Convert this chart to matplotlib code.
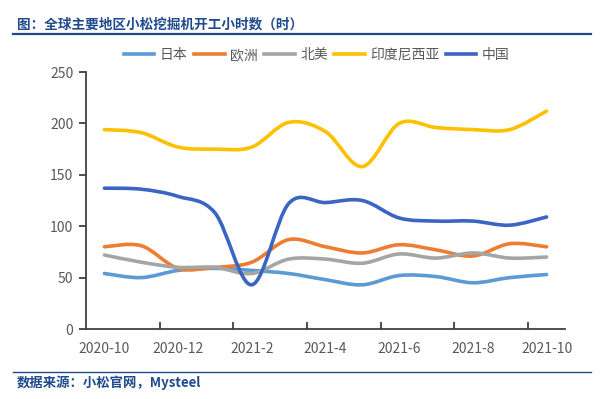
import matplotlib.pyplot as plt
from matplotlib.path import Path
from matplotlib.patches import PathPatch
from matplotlib.lines import Line2D
import numpy as np

plt.rcParams['font.family'] = ['Noto Sans CJK SC', 'DejaVu Sans']

months = ['2020-10', '2020-11', '2020-12', '2021-1', '2021-2', '2021-3', '2021-4',
          '2021-5', '2021-6', '2021-7', '2021-8', '2021-9', '2021-10']
japan = [54, 50, 57, 59, 57, 54, 48, 43, 52, 51, 45, 50, 53]
europe = [80, 81, 59, 60, 65, 87, 80, 74, 82, 77, 71, 83, 80]
n_america = [72, 65, 60, 60, 54, 68, 68, 64, 73, 69, 74, 69, 70]
indonesia = [194, 191, 177, 175, 177, 201, 192, 158, 200, 196, 194, 194, 212]
china = [137, 136, 129, 113, 43, 122, 123, 125, 108, 105, 105, 101, 109]

names = ['日本', '欧洲', '北美', '印度尼西亚', '中国']
colors = ['#5B9BD5', '#ED7D31', '#A5A5A5', '#FFC000', '#3A65C3']
series = [japan, europe, n_america, indonesia, china]


def smooth_path(xs, ys):
    "Bezier path through the points, like the excel smoothed line"
    pts = np.column_stack([xs, ys]).astype(float)
    n = len(pts)
    verts = [pts[0]]
    codes = [Path.MOVETO]
    for i in range(n - 1):
        p0 = pts[i - 1] if i > 0 else pts[i]
        p1 = pts[i]
        p2 = pts[i + 1]
        p3 = pts[i + 2] if i + 2 < n else pts[i + 1]
        c1 = p1 + (p2 - p0) / 6
        c2 = p2 - (p3 - p1) / 6
        verts += [c1, c2, p2]
        codes += [Path.CURVE4] * 3
    return Path(verts, codes)


fig = plt.figure(figsize=(6.0, 3.99), dpi=100)
ax = fig.add_axes([0.1433, 0.1754, 0.7984, 0.6441])

x = np.arange(len(months))
for vals, name, c in zip(series, names, colors):
    ax.add_patch(PathPatch(smooth_path(x, vals), fill=False, edgecolor=c,
                           lw=2.6, capstyle='round', joinstyle='round'))

ax.set_xlim(-0.5, len(months) - 0.5)
ax.set_ylim(0, 250)
ax.set_yticks(np.arange(0, 251, 50))
ax.set_xticks(x[::2])
ax.set_xticklabels(months[::2])
ax.set_xticks(np.arange(1.5, len(months) - 0.5, 2), minor=True)

for s in ['top', 'right']:
    ax.spines[s].set_visible(False)
for s in ['left', 'bottom']:
    ax.spines[s].set_color('#404040')
    ax.spines[s].set_linewidth(1.3)
ax.tick_params(axis='y', direction='out', length=5, width=1.3, color='#404040',
               labelsize=10, labelcolor='#595959', pad=4)
ax.tick_params(axis='x', which='major', length=0, labelsize=10,
               labelcolor='#595959', pad=9)
ax.tick_params(axis='x', which='minor', direction='in', length=5, width=1.3,
               color='#404040')

handles = [Line2D([0], [0], color=c, lw=2.6) for c in colors]
fig.legend(handles, names, loc='center', bbox_to_anchor=(0.528, 0.862), ncol=5,
           frameon=False, fontsize=10, labelcolor='#595959', handlelength=2.2,
           handletextpad=0.4, columnspacing=0.45)

# title and source lines
navy = '#1F4A8C'
fig.text(0.028, 0.938, '图：全球主要地区小松挖掘机开工小时数（时）', fontsize=9.8,
         fontweight='bold', color=navy, va='center')
fig.add_artist(Line2D([0.022, 0.985], [0.915, 0.915], color=navy, lw=1.6))
fig.add_artist(Line2D([0.022, 0.985], [0.068, 0.068], color=navy, lw=1.0))
fig.text(0.028, 0.040, '数据来源：小松官网，Mysteel', fontsize=9.6,
         fontweight='bold', color=navy, va='center')

fig.savefig('out.png', dpi=100)
